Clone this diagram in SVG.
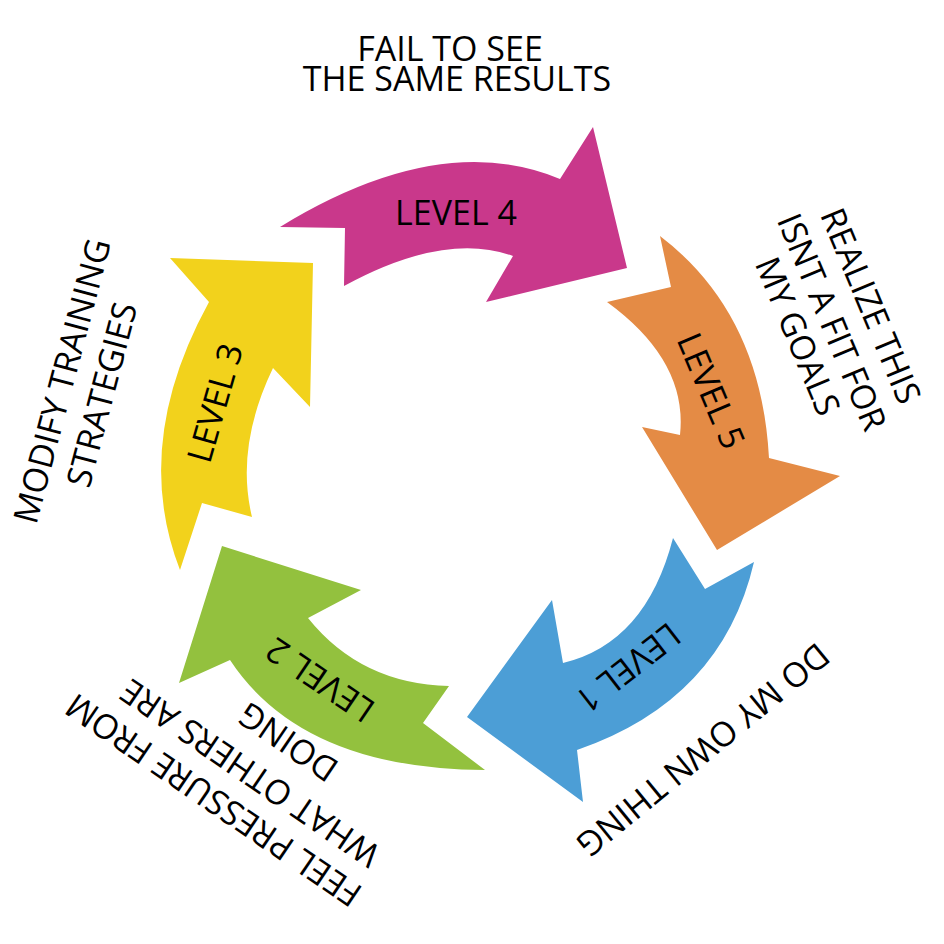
<svg xmlns="http://www.w3.org/2000/svg" width="944" height="944" viewBox="0 0 944 944">
<style>
  .t{font-family:"Open Sans","Noto Sans","DejaVu Sans",sans-serif;font-size:34px;fill:#000;text-anchor:middle}
  .pink{fill:#C9388B}
  .orange{fill:#E48B45}
  .blue{fill:#4C9ED6}
  .green{fill:#93C13E}
  .yellow{fill:#F2D21C}
</style>
<rect width="944" height="944" fill="#fff"/>
<g id="connectors"/>
<g id="level4">
  <path class="pink" d="M280,227 Q440,129 560,179 L593,127 L627,268 L486,302 L513,256 Q445,231 344,286 L345,228 Z"/>
  <text class="t" x="456" y="225">LEVEL 4</text>
  <text class="t"><tspan x="450" y="61">FAIL TO SEE</tspan><tspan x="457" y="91">THE SAME RESULTS</tspan></text>
</g>
<g id="level5">
  <path class="orange" d="M660,236 L671,287 L607,302 Q688,361 680,435 L642,427 L717,550 L840,476 L769,458 Q761,313 660,236 Z"/>
  <text class="t" transform="translate(711,391) rotate(67)" x="0" y="12">LEVEL 5</text>
  <text class="t" transform="translate(832,322) rotate(67.4)"><tspan x="0" y="-30">REALIZE THIS</tspan><tspan x="0" y="12">ISNT A FIT FOR</tspan><tspan x="0" y="49">MY GOALS</tspan></text>
</g>
<g id="level1">
  <path class="blue" d="M673,538 L705,589 L754,562 Q722,700 577,750 L583,802 L467,717 L552,600 L563,663 Q646,643 673,538 Z"/>
  <text class="t" transform="translate(628,668) rotate(142)" x="0" y="12">LEVEL 1</text>
  <text class="t" transform="translate(703,750) rotate(140.7)" x="0" y="12">DO MY OWN THING</text>
</g>
<g id="level2">
  <path class="green" d="M485,770 L423,723 L449,686 Q361,684 308,618 L361,590 L222,546 L179,683 L230,660 Q302,769 485,770 Z"/>
  <text class="t" transform="translate(320,680) rotate(214)" x="0" y="12">LEVEL 2</text>
  <text class="t" transform="translate(250,773) rotate(214.3)"><tspan x="15" y="-31">FEEL PRESSURE FROM</tspan><tspan x="0" y="12">WHAT OTHERS ARE</tspan><tspan x="-14" y="59">DOING</tspan></text>
</g>
<g id="level3">
  <path class="yellow" d="M180,570 Q131,444 209,302 L170,258 L313,263 L310,407 L273,368 Q235,447 252,517 L202,503 Z"/>
  <text class="t" transform="translate(215,403) rotate(-74)" x="0" y="12">LEVEL 3</text>
  <text class="t" transform="translate(62,381) rotate(-75.2)"><tspan x="0" y="12">MODIFY TRAINING</tspan><tspan x="-3" y="54">STRATEGIES</tspan></text>
</g>
</svg>
